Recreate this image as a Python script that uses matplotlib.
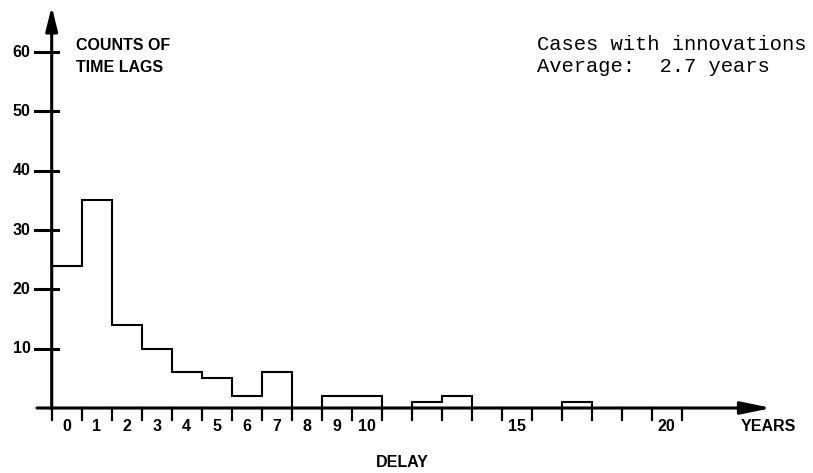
import matplotlib
matplotlib.use("Agg")
import matplotlib.pyplot as plt

# conteos de retrasos por año (bins de 1 año)
bin_edges = list(range(0, 19))
counts = [24, 35, 14, 10, 6, 5, 2, 6, 0, 2, 2, 0, 1, 2, 0, 0, 0, 1]

y_ticks = [10, 20, 30, 40, 50, 60]
x_tick_marks = list(range(0, 22))
x_labels = ["0", "1", "2", "3", "4", "5", "6", "7", "8", "9", "10", "15", "20"]

bold = dict(family="Liberation Sans", weight="bold", size=11.5)
mono = dict(family="Liberation Mono", size=14.8)

fig = plt.figure(figsize=(8.13, 4.73), dpi=100)
ax = fig.add_axes([0, 0, 1, 1])
ax.set_xlim(-1.723, 25.377)
ax.set_ylim(-10.96, 68.8)
ax.axis("off")

# histograma
ax.stairs(counts, bin_edges, baseline=0, color="black", lw=1.5)

# ejes con flechas
ax.annotate("", xy=(24.0, 0), xytext=(-0.49, 0),
            arrowprops=dict(arrowstyle="-|>,head_length=1.85,head_width=0.38",
                            color="black", lw=2.2, shrinkA=0, shrinkB=0))
ax.annotate("", xy=(0, 67.7), xytext=(0, -0.2),
            arrowprops=dict(arrowstyle="-|>,head_length=1.45,head_width=0.36",
                            color="black", lw=2.2, shrinkA=0, shrinkB=0))

# marcas del eje y
for v in y_ticks:
    ax.plot([-0.56, 0.21], [v, v], color="black", lw=2.2)
    ax.text(-0.7, v, str(v), ha="right", va="center", **bold)

# marcas del eje x
for t in x_tick_marks:
    ax.plot([t, t], [0, -2.1], color="black", lw=1.6)
for lab in x_labels:
    ax.text(int(lab) + 0.5, -3.1, lab, ha="center", va="center", **bold)

ax.text(0.81, 60.4, "COUNTS OF", ha="left", va="baseline", **bold)
ax.text(0.81, 56.7, "TIME LAGS", ha="left", va="baseline", **bold)
ax.text(23.88, -3.2, "YEARS", ha="center", va="center", **bold)
ax.text(11.69, -9.2, "DELAY", ha="center", va="center", **bold)

ax.text(16.18, 60.4, "Cases with innovations", ha="left", va="baseline", **mono)
ax.text(16.18, 56.66, "Average:  2.7 years", ha="left", va="baseline", **mono)

fig.savefig("out.png", dpi=100, facecolor="white")
